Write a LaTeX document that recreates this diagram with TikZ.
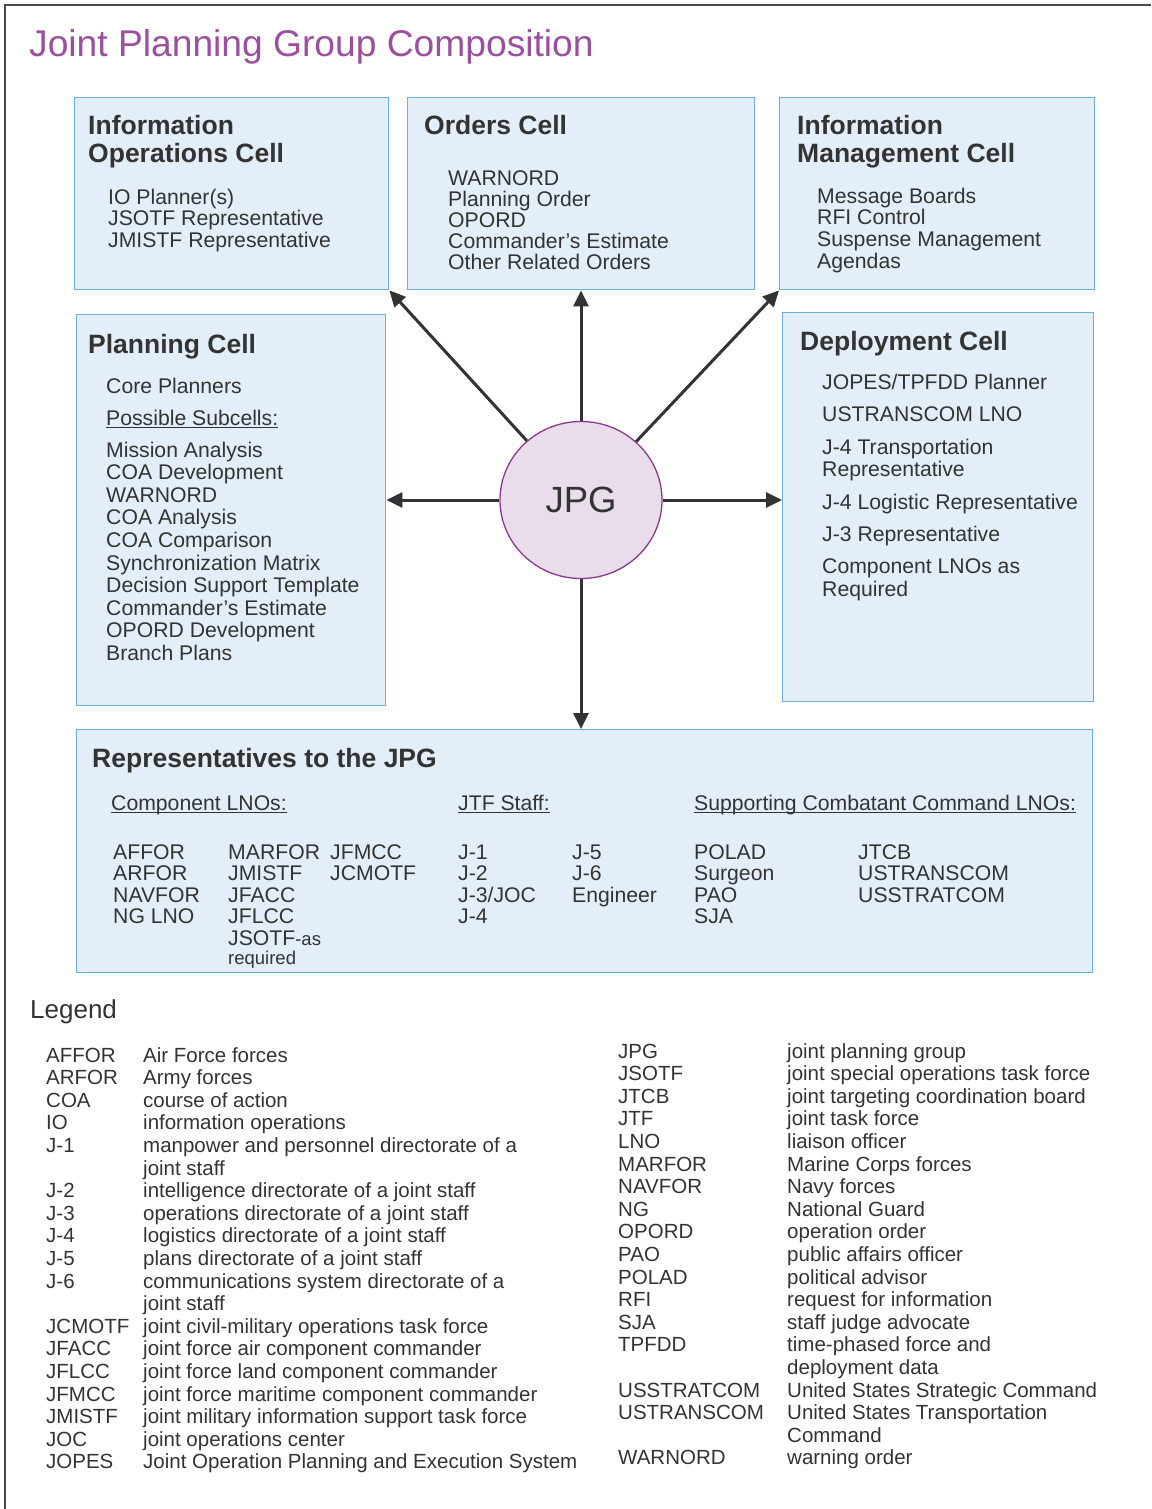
\documentclass[tikz,border=0pt]{standalone}
\usepackage{fontspec}
\setmainfont{Liberation Sans}
\usetikzlibrary{arrows.meta,shapes.geometric}

\definecolor{ink}{HTML}{333333}
\definecolor{titlepurple}{HTML}{9C4F9F}
\definecolor{cellfill}{HTML}{E3EEF8}
\definecolor{celledge}{HTML}{68B2E3}
\definecolor{hubfill}{HTML}{E9DDEC}
\definecolor{hubedge}{HTML}{8A3A8C}
\definecolor{framegray}{HTML}{4A4A4A}

\tikzset{
  cell/.style={draw=celledge, fill=cellfill, line width=1.4pt, inner sep=0pt, anchor=north west},
  head/.style={font=\fontsize{26.5}{27}\selectfont\bfseries, text=ink, inner sep=0pt, anchor=base west},
  body/.style={font=\fontsize{21.2}{21}\selectfont, text=ink, inner sep=0pt, anchor=base west},
  smallbody/.style={font=\fontsize{18.5}{19}\selectfont, text=ink, inner sep=0pt, anchor=base west},
  legtext/.style={font=\fontsize{20.5}{21}\selectfont, text=ink, inner sep=0pt, anchor=base west},
  link/.style={draw=ink, line width=3pt, -{Triangle[length=16pt,width=15pt]}},
  uline/.style={draw=ink, line width=1.1pt},
}

% a column of single-line labels: style, name prefix, x, first baseline, step, lines
\newcommand\textstack[6]{%
  \foreach \t [count=\i] in {#6} {\node[#1] (#2\i) at (#3,{#4+(\i-1)*#5}) {\t};}}

\begin{document}
\begin{tikzpicture}[x=1pt, y=-1pt]
\useasboundingbox (0,0) rectangle (1151,1509);

% page frame
\draw[framegray, line width=2.5pt] (5,1509) -- (5,5) -- (1151,5);

% title
\node[anchor=base west, inner sep=0pt, font=\fontsize{37.2}{37}\selectfont, text=titlepurple]
  (title) at (29,57) {Joint Planning Group Composition};

% cells
\node[cell, minimum width=314pt, minimum height=192pt] (io) at (74,97) {};
\node[cell, minimum width=347pt, minimum height=192pt] (orders) at (407,97) {};
\node[cell, minimum width=315pt, minimum height=192pt] (im) at (779,97) {};
\node[cell, minimum width=309pt, minimum height=391pt] (plan) at (76,314) {};
\node[cell, minimum width=311pt, minimum height=389pt] (dep) at (782,312) {};
\node[cell, minimum width=1016pt, minimum height=243pt] (reps) at (76,729) {};

% hub
\node[ellipse, draw=hubedge, fill=hubfill, line width=1.3pt, minimum width=162pt,
  minimum height=157pt, inner sep=0pt, font=\fontsize{36.5}{37}\selectfont, text=ink]
  (jpg) at (581,500) {JPG};

% connectors
\draw[link] (jpg) -- (io.south east);
\draw[link] (jpg) -- (jpg |- orders.south);
\draw[link] (jpg) -- (im.south west);
\draw[link] (jpg) -- (jpg -| plan.east);
\draw[link] (jpg) -- (jpg -| dep.west);
\draw[link] (jpg) -- (jpg |- reps.north);

% Information Operations Cell
\node[head] (ioh1) at (88,135) {Information};
\node[head] (ioh2) at (88,162) {Operations Cell};
\textstack{body}{iob}{108}{204}{21.5}{IO Planner(s), JSOTF Representative, JMISTF Representative}

% Orders Cell
\node[head] (orh) at (424,135) {Orders Cell};
\textstack{body}{orb}{448}{185}{21.1}{WARNORD, Planning Order, OPORD, Commander’s Estimate, Other Related Orders}

% Information Management Cell
\node[head] (imh1) at (797,135) {Information};
\node[head] (imh2) at (797,162) {Management Cell};
\textstack{body}{imb}{817}{203}{21.7}{Message Boards, RFI Control, Suspense Management, Agendas}

% Planning Cell
\node[head] (plh) at (88,353) {Planning Cell};
\node[body] (plcore) at (106,393) {Core Planners};
\node[body] (plsub) at (106,425) {Possible Subcells:};
\draw[uline] ([yshift=-2.5pt]plsub.base west) -- ([yshift=-2.5pt]plsub.base east);
\textstack{body}{plb}{106}{457}{22.6}{Mission Analysis, COA Development, WARNORD, COA Analysis,
  COA Comparison, Synchronization Matrix, Decision Support Template, Commander’s Estimate,
  OPORD Development, Branch Plans}

% Deployment Cell
\node[head] (dph) at (800,350) {Deployment Cell};
\node[body] (dp1) at (822,389) {JOPES/TPFDD Planner};
\node[body] (dp2) at (822,421) {USTRANSCOM LNO};
\node[body] (dp3) at (822,454) {J-4 Transportation};
\node[body] (dp4) at (822,476) {Representative};
\node[body] (dp5) at (822,509) {J-4 Logistic Representative};
\node[body] (dp6) at (822,541) {J-3 Representative};
\node[body] (dp7) at (822,573) {Component LNOs as};
\node[body] (dp8) at (822,596) {Required};

% Representatives to the JPG
\node[head] (rph) at (92,767) {Representatives to the JPG};
\node[body] (rpc) at (111,810) {Component LNOs:};
\node[body] (rpj) at (458,810) {JTF Staff:};
\node[body] (rps) at (694,810) {Supporting Combatant Command LNOs:};
\foreach \n in {rpc,rpj,rps}
  \draw[uline] ([yshift=-2.5pt]\n.base west) -- ([yshift=-2.5pt]\n.base east);
\textstack{body}{rc1}{113}{859}{21.5}{AFFOR, ARFOR, NAVFOR, NG LNO}
\textstack{body}{rc2}{228}{859}{21.5}{MARFOR, JMISTF, JFACC, JFLCC, {JSOTF{\fontsize{18.5}{19}\selectfont -as}}}
\node[smallbody] (rc2req) at (228,964) {required};
\textstack{body}{rc3}{330}{859}{21.5}{JFMCC, JCMOTF}
\textstack{body}{rc4}{458}{859}{21.5}{J-1, J-2, J-3/JOC, J-4}
\textstack{body}{rc5}{572}{859}{21.5}{J-5, J-6, Engineer}
\textstack{body}{rc6}{694}{859}{21.5}{POLAD, Surgeon, PAO, SJA}
\textstack{body}{rc7}{858}{859}{21.5}{JTCB, USTRANSCOM, USSTRATCOM}

% Legend
\node[anchor=base west, inner sep=0pt, font=\fontsize{26}{26}\selectfont, text=ink]
  (legend) at (30,1018) {Legend};

\foreach \r/\a/\d in {0/AFFOR/Air Force forces, 1/ARFOR/Army forces, 2/COA/course of action,
  3/IO/information operations, 4/J-1/manpower and personnel directorate of a,
  6/J-2/intelligence directorate of a joint staff, 7/J-3/operations directorate of a joint staff,
  8/J-4/logistics directorate of a joint staff, 9/J-5/plans directorate of a joint staff,
  10/J-6/communications system directorate of a,
  12/JCMOTF/joint civil-military operations task force,
  13/JFACC/joint force air component commander, 14/JFLCC/joint force land component commander,
  15/JFMCC/joint force maritime component commander,
  16/JMISTF/joint military information support task force, 17/JOC/joint operations center,
  18/JOPES/Joint Operation Planning and Execution System} {
  \node[legtext] (la\r) at (46,{1062+\r*22.6}) {\a};
  \node[legtext] (ld\r) at (143,{1062+\r*22.6}) {\d};
}
\foreach \r in {5,11}
  \node[legtext] (ld\r) at (143,{1062+\r*22.6}) {joint staff};

\foreach \r/\a/\d in {0/JPG/joint planning group, 1/JSOTF/joint special operations task force,
  2/JTCB/joint targeting coordination board, 3/JTF/joint task force, 4/LNO/liaison officer,
  5/MARFOR/Marine Corps forces, 6/NAVFOR/Navy forces, 7/NG/National Guard,
  8/OPORD/operation order, 9/PAO/public affairs officer, 10/POLAD/political advisor,
  11/RFI/request for information, 12/SJA/staff judge advocate, 13/TPFDD/time-phased force and,
  15/USSTRATCOM/United States Strategic Command, 16/USTRANSCOM/United States Transportation,
  18/WARNORD/warning order} {
  \node[legtext] (ra\r) at (618,{1058+\r*22.6}) {\a};
  \node[legtext] (rd\r) at (787,{1058+\r*22.6}) {\d};
}
\node[legtext] (rd14) at (787,{1058+14*22.6}) {deployment data};
\node[legtext] (rd17) at (787,{1058+17*22.6}) {Command};

\end{tikzpicture}
\end{document}
